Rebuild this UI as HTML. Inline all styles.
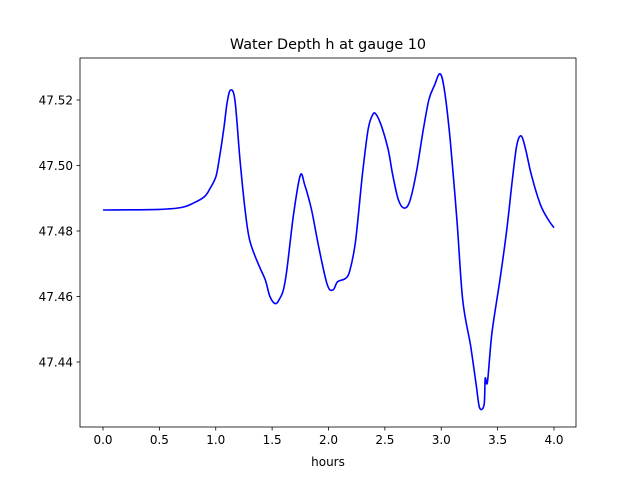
<!DOCTYPE html>
<html><head><meta charset="utf-8"><style>
body{margin:0;background:#fff}
svg{display:block;font-family:"DejaVu Sans","Liberation Sans",sans-serif}
</style></head><body>
<svg id="chart" width="640" height="480" viewBox="0 0 640 480">
<rect width="640" height="480" fill="#fff"/>
<text x="328" y="49" text-anchor="middle" font-size="14.4" fill="#000">Water Depth h at gauge 10</text>
<g id="plot"></g>
<text x="328" y="466" text-anchor="middle" font-size="12" fill="#000">hours</text>
</svg>
<script>
const hours=[0,0.5,0.7,0.8,0.9,0.95,1.0,1.03,1.07,1.1,1.13,1.17,1.215,1.26,1.30,1.37,1.44,1.48,1.53,1.57,1.6,1.63,1.69,1.75,1.79,1.85,1.92,1.99,2.04,2.08,2.15,2.19,2.24,2.30,2.35,2.39,2.42,2.47,2.53,2.57,2.62,2.67,2.72,2.78,2.84,2.89,2.94,2.99,3.03,3.08,3.14,3.19,3.26,3.31,3.34,3.38,3.39,3.41,3.45,3.52,3.58,3.63,3.67,3.71,3.75,3.80,3.88,3.95,4.0];
const depth=[47.4864,47.4866,47.4872,47.4885,47.4905,47.493,47.4965,47.5017,47.5108,47.519,47.523,47.520,47.5017,47.4864,47.4773,47.4705,47.465,47.460,47.4578,47.4595,47.462,47.468,47.485,47.497,47.494,47.4864,47.474,47.4635,47.462,47.4645,47.4655,47.468,47.477,47.497,47.5108,47.5154,47.5157,47.512,47.5047,47.497,47.4895,47.487,47.489,47.498,47.5108,47.52,47.5245,47.528,47.5227,47.5075,47.483,47.459,47.445,47.433,47.426,47.427,47.435,47.434,47.449,47.465,47.480,47.4955,47.5062,47.509,47.5047,47.497,47.488,47.4834,47.481];
const xTicks=[0,0.5,1.0,1.5,2.0,2.5,3.0,3.5,4.0];
const xTickLabels=["0.0","0.5","1.0","1.5","2.0","2.5","3.0","3.5","4.0"];
const yTicks=[47.44,47.46,47.48,47.50,47.52];
const yTickLabels=["47.44","47.46","47.48","47.50","47.52"];
const L=80,R=576,T=58,B=427;
const x=v=>103+v*112.75;
const y=v=>362-(v-47.44)*3275;
const ns="http://www.w3.org/2000/svg";
const g=document.getElementById('plot');
function mk(t,a){const e=document.createElementNS(ns,t);for(const k in a)e.setAttribute(k,a[k]);g.appendChild(e);return e;}
const P=hours.map((h,i)=>[x(h),y(depth[i])]);
let d='M'+P[0][0].toFixed(1)+','+P[0][1].toFixed(1);
for(let i=0;i<P.length-1;i++){
 const p0=P[Math.max(0,i-1)],p1=P[i],p2=P[i+1],p3=P[Math.min(P.length-1,i+2)];
 const c1=[p1[0]+(p2[0]-p0[0])/6,p1[1]+(p2[1]-p0[1])/6];
 const c2=[p2[0]-(p3[0]-p1[0])/6,p2[1]-(p3[1]-p1[1])/6];
 d+=' C'+c1[0].toFixed(1)+','+c1[1].toFixed(1)+' '+c2[0].toFixed(1)+','+c2[1].toFixed(1)+' '+p2[0].toFixed(1)+','+p2[1].toFixed(1);
}
const line=mk('path',{d:d,fill:'none',stroke:'#0000ff','stroke-width':1.6,'stroke-linejoin':'round'});


const frame=mk('rect',{x:L,y:T,width:R-L,height:B-T,fill:'none',stroke:'#000','stroke-width':0.8});


xTicks.forEach((v,i)=>{
 const t=mk('line',{x1:x(v),x2:x(v),y1:B,y2:B+3.5,stroke:'#000','stroke-width':0.8});
 
 
 const l=mk('text',{x:x(v),y:B+17,'text-anchor':'middle','font-size':12,fill:'#000'});
 l.textContent=xTickLabels[i];
 
 
});
yTicks.forEach((v,i)=>{
 const t=mk('line',{x1:L-3.5,x2:L,y1:y(v),y2:y(v),stroke:'#000','stroke-width':0.8});
 
 
 const l=mk('text',{x:L-7,y:y(v)+4.5,'text-anchor':'end','font-size':12,fill:'#000'});
 l.textContent=yTickLabels[i];
 
 
});
</script>
</body></html>
